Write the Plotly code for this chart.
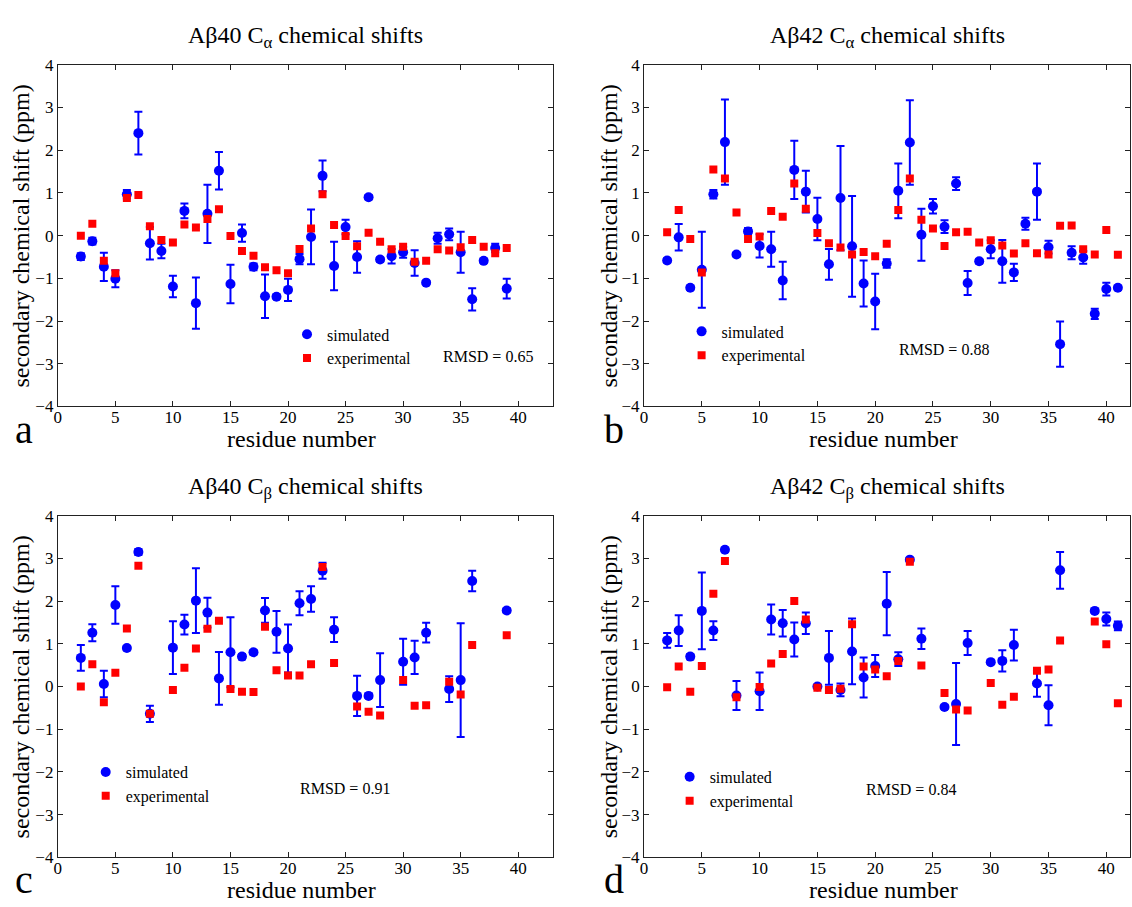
import plotly.graph_objects as go

# ---------------- data ----------------
a_res = list(range(2, 40))
a_sim = [-0.49, -0.13, -0.73, -1.01, 0.97, 2.40, -0.18, -0.36, -1.19, 0.58, -1.58, 0.51, 1.52, -1.13,
         0.06, -0.73, -1.42, -1.43, -1.27, -0.55, -0.03, 1.40, -0.71, 0.20, -0.50, 0.90, -0.56, -0.48,
         -0.39, -0.64, -1.10, -0.06, 0.03, -0.39, -1.49, -0.59, -0.29, -1.24]
a_err = [0.08, 0.08, 0.33, 0.2, 0.1, 0.5, 0.38, 0.17, 0.25, 0.17, 0.6, 0.68, 0.44, 0.45, 0.2, 0.08,
         0.51, 0.05, 0.26, 0.12, 0.64, 0.36, 0.57, 0.17, 0.37, 0.05, 0.05, 0.17, 0.13, 0.3, 0.04, 0.13,
         0.14, 0.48, 0.26, 0.05, 0.1, 0.23]
a_exp = [0.0, 0.28, -0.59, -0.88, 0.88, 0.95, 0.22, -0.1, -0.16, 0.26, 0.19, 0.39, 0.62, -0.01, -0.36,
         -0.47, -0.74, -0.81, -0.88, -0.31, 0.17, 0.97, 0.25, -0.01, -0.25, 0.07, -0.14, -0.32, -0.26,
         -0.61, -0.59, -0.32, -0.35, -0.27, -0.10, -0.26, -0.41, -0.29]

b_res = list(range(2, 42))
b_sim = [-0.58, -0.04, -1.22, -0.80, 0.97, 2.19, -0.44, 0.10, -0.24, -0.32, -1.05, 1.54, 1.03, 0.39,
         -0.67, 0.88, -0.25, -1.12, -1.54, -0.65, 1.05, 2.18, 0.02, 0.69, 0.21, 1.22, -1.11, -0.60,
         -0.32, -0.60, -0.86, 0.28, 1.03, -0.27, -2.54, -0.40, -0.51, -1.83, -1.25, -1.22]
b_err = [0.05, 0.31, 0.05, 0.89, 0.1, 1.0, 0.04, 0.08, 0.27, 0.41, 0.44, 0.68, 0.49, 0.5, 0.36, 1.22,
         1.18, 0.54, 0.65, 0.1, 0.64, 0.99, 0.61, 0.17, 0.15, 0.15, 0.28, 0.05, 0.21, 0.5, 0.2, 0.14,
         0.66, 0.15, 0.53, 0.15, 0.15, 0.12, 0.15, 0.05]
b_exp = [0.08, 0.60, -0.08, -0.86, 1.55, 1.34, 0.54, -0.08, -0.02, 0.58, 0.44, 1.22, 0.63, 0.06, -0.18,
         -0.28, -0.44, -0.38, -0.48, -0.19, 0.60, 1.34, 0.37, 0.17, -0.24, 0.08, 0.09, -0.16, -0.11,
         -0.23, -0.42, -0.18, -0.41, -0.44, 0.23, 0.24, -0.32, -0.44, 0.13, -0.45]

c_res = [2, 3, 4, 5, 6, 7, 8, 10, 11, 12, 13, 14, 15, 16, 17, 18, 19, 20, 21, 22, 23, 24, 26, 27, 28,
         30, 31, 32, 34, 35, 36, 39]
c_sim = [0.67, 1.26, 0.06, 1.91, 0.90, 3.15, -0.64, 0.91, 1.45, 2.01, 1.73, 0.19, 0.80, 0.70, 0.80,
         1.78, 1.28, 0.89, 1.95, 2.05, 2.71, 1.33, -0.22, -0.22, 0.15, 0.58, 0.68, 1.26, -0.06, 0.15,
         2.47, 1.78]
c_err = [0.3, 0.2, 0.31, 0.44, 0.05, 0.07, 0.19, 0.62, 0.23, 0.76, 0.35, 0.62, 0.82, 0.06, 0.05, 0.29,
         0.49, 0.56, 0.28, 0.3, 0.19, 0.29, 0.47, 0.05, 0.63, 0.54, 0.39, 0.23, 0.3, 1.33, 0.24, 0.05]
c_exp = [0.0, 0.52, -0.37, 0.32, 1.36, 2.83, -0.64, -0.08, 0.44, 0.89, 1.35, 1.54, -0.06, -0.12, -0.13,
         1.40, 0.38, 0.26, 0.26, 0.52, 2.80, 0.55, -0.47, -0.59, -0.68, 0.15, -0.45, -0.44, 0.11, -0.19,
         0.97, 1.20]

d_res = [2, 3, 4, 5, 6, 7, 8, 10, 11, 12, 13, 14, 15, 16, 17, 18, 19, 20, 21, 22, 23, 24, 26, 27, 28,
         30, 31, 32, 34, 35, 36, 39, 40, 41]
d_sim = [1.08, 1.31, 0.7, 1.77, 1.31, 3.20, -0.21, -0.11, 1.57, 1.48, 1.10, 1.48, 0.0, 0.67, -0.08,
         0.82, 0.21, 0.48, 1.94, 0.64, 2.97, 1.12, -0.48, -0.41, 1.02, 0.57, 0.60, 0.97, 0.07, -0.44,
         2.72, 1.77, 1.58, 1.42]
d_err = [0.17, 0.36, 0.06, 0.9, 0.22, 0.05, 0.34, 0.44, 0.35, 0.31, 0.4, 0.25, 0.04, 0.63, 0.15, 0.77,
         0.47, 0.26, 0.74, 0.16, 0.04, 0.24, 0.04, 0.96, 0.28, 0.04, 0.25, 0.36, 0.31, 0.47, 0.43, 0.05,
         0.15, 0.1]
d_exp = [-0.02, 0.47, -0.12, 0.48, 2.17, 2.94, -0.25, -0.01, 0.54, 0.76, 2.0, 1.57, -0.03, -0.08, -0.05,
         1.46, 0.47, 0.40, 0.24, 0.60, 2.92, 0.49, -0.15, -0.54, -0.56, 0.08, -0.43, -0.24, 0.37, 0.40,
         1.08, 1.52, 0.99, -0.39]

titles = ["Aβ40 C<sub>α</sub> chemical shifts", "Aβ42 C<sub>α</sub> chemical shifts",
          "Aβ40 C<sub>β</sub> chemical shifts", "Aβ42 C<sub>β</sub> chemical shifts"]
rmsd_labels = ["RMSD = 0.65", "RMSD = 0.88", "RMSD = 0.91", "RMSD = 0.84"]
panel_letters = ["a", "b", "c", "d"]
y_ticks = [-4, -3, -2, -1, 0, 1, 2, 3, 4]
x_ticks = [0, 5, 10, 15, 20, 25, 30, 35, 40]

# ---------------- layout geometry (pixels) ----------------
W, H = 1132, 907
FONT = "Liberation Serif"
BLUE = "#0000FF"
RED = "#FF0000"

def px(x):
    return x / W

def py(y):
    return 1 - y / H

panels = [
    dict(res=a_res, sim=a_sim, err=a_err, exp=a_exp, x0=54, x1=550.7, y0=57, y1=406, xmax=43,
         leg=(307, 335), rmsd=(439, 355), ytitle_x=17, letter=(20, 429)),
    dict(res=b_res, sim=b_sim, err=b_err, exp=b_exp, x0=642.3, x1=1130, y0=57, y1=406, xmax=42.05,
         leg=(703, 332), rmsd=(896, 348), ytitle_x=607, letter=(612, 429)),
    dict(res=c_res, sim=c_sim, err=c_err, exp=c_exp, x0=54, x1=550.7, y0=517.5, y1=866.5, xmax=43,
         leg=(105, 782), rmsd=(295, 796), ytitle_x=17, letter=(20, 889)),
    dict(res=d_res, sim=d_sim, err=d_err, exp=d_exp, x0=642.3, x1=1130, y0=517.5, y1=866.5, xmax=42.05,
         leg=(691, 787), rmsd=(863, 797), ytitle_x=607, letter=(612, 889)),
]

fig = go.Figure()
annotations = []
layout_extra = {}

for i, p in enumerate(panels):
    n = "" if i == 0 else str(i + 1)
    xa, ya = "x" + n, "y" + n
    legname = "legend" + n
    fig.add_trace(go.Scatter(
        x=p["res"], y=p["sim"], mode="markers", name="simulated",
        marker=dict(symbol="circle", size=10, color=BLUE),
        error_y=dict(type="data", array=p["err"], visible=True, color=BLUE, thickness=2, width=4),
        xaxis=xa, yaxis=ya, legend=legname))
    fig.add_trace(go.Scatter(
        x=p["res"], y=p["exp"], mode="markers", name="experimental",
        marker=dict(symbol="square", size=8, color=RED),
        xaxis=xa, yaxis=ya, legend=legname))

    axis_common = dict(showline=True, linecolor="#222222", linewidth=1, mirror="ticks",
                       ticks="inside", ticklen=5, tickcolor="#222222", showgrid=False, zeroline=False,
                       tickfont=dict(family=FONT, size=17, color="black"))
    layout_extra["xaxis" + n] = dict(axis_common, domain=[px(p["x0"]), px(p["x1"])],
                                     range=[0, p["xmax"]], tickmode="array", tickvals=x_ticks,
                                     anchor=ya, ticklabelstandoff=-5)
    layout_extra["yaxis" + n] = dict(axis_common, domain=[py(p["y1"]), py(p["y0"])],
                                     range=[-4, 4], tickmode="array", tickvals=y_ticks,
                                     anchor=xa)
    layout_extra[legname] = dict(x=px(p["leg"][0] - 23), y=py(p["leg"][1] - 20),
                                 xanchor="left", yanchor="top", bgcolor="rgba(0,0,0,0)",
                                 font=dict(family=FONT, size=16, color="black"),
                                 tracegroupgap=0, itemwidth=30)

    cx = (p["x0"] + p["x1"]) / 2
    cy = (p["y0"] + p["y1"]) / 2
    annotations += [
        dict(text=titles[i], x=px(cx), y=py(p["y0"] - 28), xref="paper", yref="paper",
             xanchor="center", yanchor="middle", showarrow=False,
             font=dict(family=FONT, size=24, color="black")),
        dict(text="residue number", x=px(cx - 4), y=py(p["y1"] + 33), xref="paper", yref="paper",
             xanchor="center", yanchor="middle", showarrow=False,
             font=dict(family=FONT, size=24, color="black")),
        dict(text="secondary chemical shift (ppm)", x=px(p["ytitle_x"]), y=py(cy), xref="paper",
             yref="paper", xanchor="center", yanchor="middle", textangle=-90, showarrow=False,
             font=dict(family=FONT, size=24, color="black")),
        dict(text=rmsd_labels[i], x=px(p["rmsd"][0]), y=py(p["rmsd"][1]), xref="paper", yref="paper",
             xanchor="left", yanchor="middle", showarrow=False,
             font=dict(family=FONT, size=16, color="black")),
        dict(text=panel_letters[i], x=px(p["letter"][0]), y=py(p["letter"][1]), xref="paper",
             yref="paper", xanchor="center", yanchor="middle", showarrow=False,
             font=dict(family=FONT, size=40, color="black")),
    ]

fig.update_layout(
    width=W, height=H, margin=dict(l=0, r=0, t=0, b=0),
    paper_bgcolor="white", plot_bgcolor="white",
    showlegend=True, annotations=annotations,
    font=dict(family=FONT, color="black"),
    **layout_extra)

fig.write_html("out.html")
